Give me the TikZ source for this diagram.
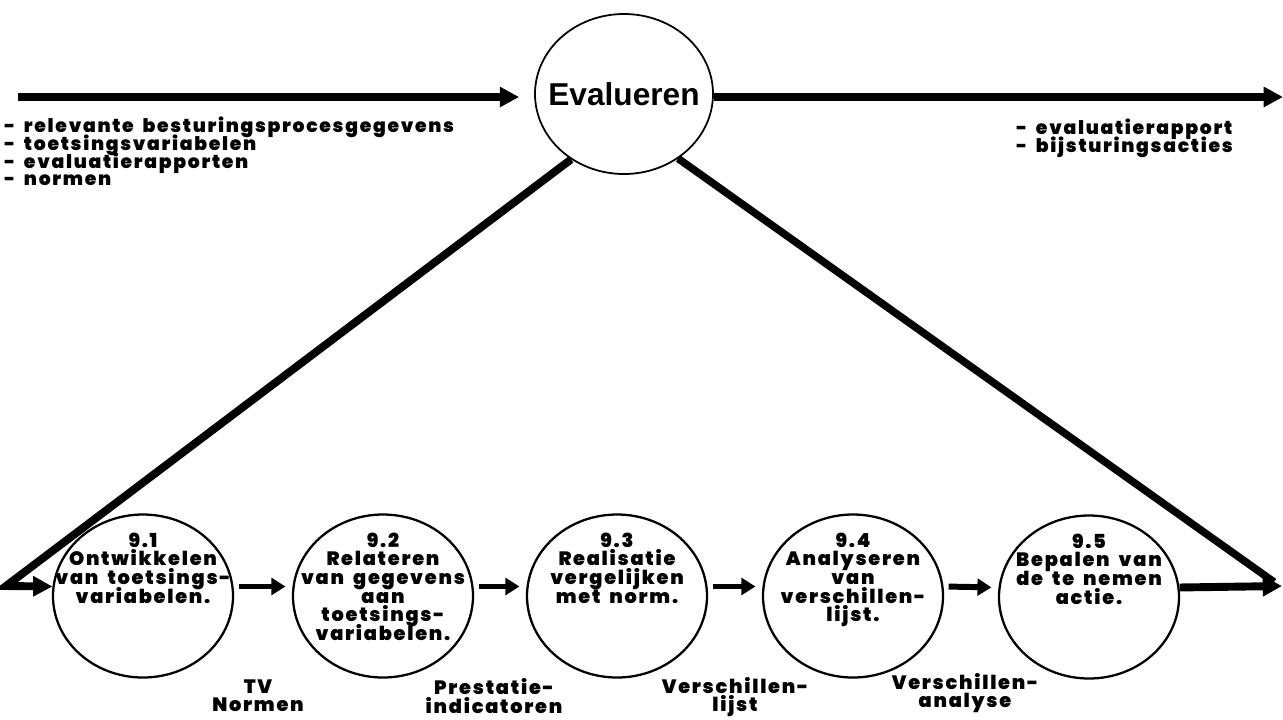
\documentclass[tikz,border=0pt]{standalone}
\usepackage{fontspec}
\setmainfont{Poppins}[BoldFont={Poppins Black}, BoldFeatures={LetterSpace=9, WordSpace=1.8}]
\newfontfamily\headfont{Liberation Sans}
\usetikzlibrary{shapes, arrows.meta, positioning, calc}
\newcommand\tightlines{\setlength{\lineskiplimit}{-5pt}\setlength{\lineskip}{0pt}}

\tikzset{
  proc/.style={ellipse, draw, line width=1.3pt, minimum width=3.6cm, minimum height=3.26cm, inner sep=0pt},
  proctext/.style={anchor=north, align=center, inner sep=0pt, font=\tightlines\fontsize{11}{10.6}\selectfont\bfseries},
  flowtext/.style={align=center, inner sep=0pt, font=\tightlines\fontsize{11}{10.4}\selectfont\bfseries},
  listtext/.style={anchor=north west, align=left, inner sep=0pt, font=\tightlines\fontsize{10.7}{10}\selectfont\bfseries},
  bigflow/.style={line width=4.5pt, line join=miter, -{Triangle[length=11pt, width=11pt]}},
  smallflow/.style={line width=3.4pt, -{Triangle[length=8pt, width=9.5pt]}},
  diag/.style={line width=4.3pt}
}

\begin{document}
\begin{tikzpicture}[x=0.2mm, y=-0.2mm]
    \useasboundingbox (0,0) rectangle (1283,719);

    % Main process
    \node[ellipse, draw, line width=1pt, minimum width=3.56cm, minimum height=3.2cm, inner sep=0pt] (ev) at (624,94) {};
    \node[font=\headfont\fontsize{18}{18}\selectfont\bfseries, inner sep=0pt] (evtext) at (ev.center) {Evalueren};

    % In- and outgoing flows
    \coordinate (inL) at (18,97);
    \coordinate (outR) at (1283,97);
    \draw[bigflow, shorten >=3mm] (inL) -- (ev.west |- inL);
    \draw[bigflow] (ev.east |- outR) -- (outR);
    \node[listtext] (inlist) at (4,117) {- relevante besturingsprocesgegevens\\- toetsingsvariabelen\\- evaluatierapporten\\- normen};
    \node[listtext] (outlist) at (1016,119) {- evaluatierapport\\- bijsturingsacties};

    % Sub-processes 9.1 .. 9.5
    \node[proc] (p1) at (143,596) {};
    \node[proc] (p2) at (383,596) {};
    \node[proc] (p3) at (617,596) {};
    \node[proc] (p4) at (853,596) {};
    \node[proc] (p5) at (1089,597) {};

    \node[proctext] (t1) at ($(p1.north)+(0,19)$) {9.1\\Ontwikkelen\\van toetsings-\\variabelen.};
    \node[proctext] (t2) at ($(p2.north)+(0,19)$) {9.2\\Relateren\\van gegevens\\aan\\toetsings-\\variabelen.};
    \node[proctext] (t3) at ($(p3.north)+(0,19)$) {9.3\\Realisatie\\vergelijken\\met norm.};
    \node[proctext] (t4) at ($(p4.north)+(0,19)$) {9.4\\Analyseren\\van\\verschillen-\\lijst.};
    \node[proctext] (t5) at ($(p5.north)+(0,19)$) {9.5\\Bepalen van\\de te nemen\\actie.};

    % Decomposition lines
    \coordinate (lcorner) at (6,586);
    \coordinate (rcorner) at (1282,586);
    \draw[bigflow] (ev.231) -- (lcorner) -- (p1.174);
    \draw[diag] (ev.310) -- ($(rcorner)+(-8,-4)$);
    \draw[bigflow] (p5.6) -- (rcorner);

    % Flows between sub-processes
    \foreach \a/\b in {p1/p2, p2/p3, p3/p4, p4/p5}
        \draw[smallflow, shorten <=1mm, shorten >=1.4mm] (\a.6) -- (\b.174);

    \node[flowtext] (f1) at (258,696) {TV\\Normen};
    \node[flowtext] (f2) at (494,696) {Prestatie-\\indicatoren};
    \node[flowtext] (f3) at (735,697) {Verschillen-\\lijst};
    \node[flowtext] (f4) at (965,693) {Verschillen-\\analyse};
\end{tikzpicture}
\end{document}
